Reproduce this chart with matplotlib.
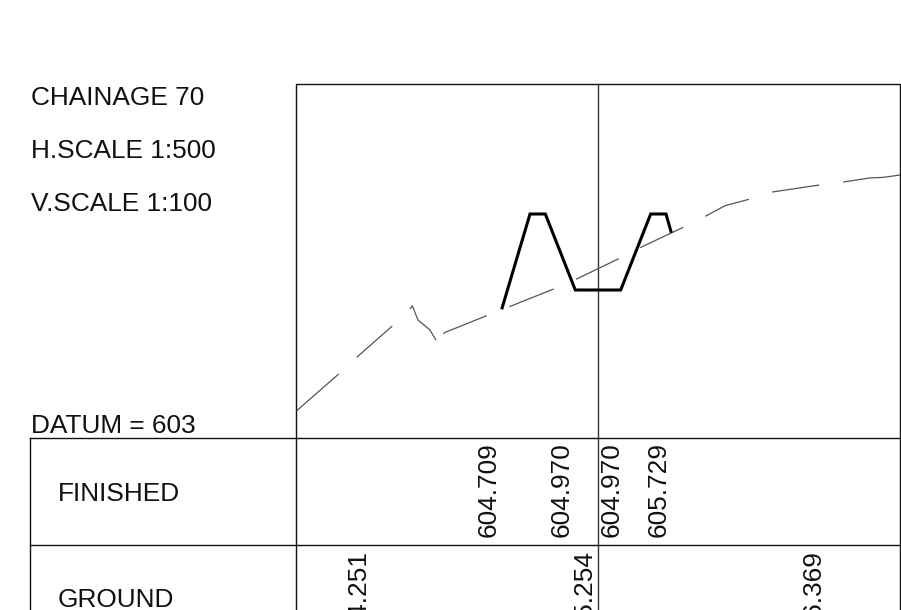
import matplotlib
matplotlib.use("Agg")
import matplotlib.pyplot as plt

plt.rcParams['font.family'] = ['Liberation Sans', 'DejaVu Sans']

# horizontal offset from centre line (m), level (m)
ground_offsets = [
    [-15.065, -12.965],
    [-12.065, -10.285],
    [-9.4, -9.285, -9.0, -8.4, -8.1],
    [-7.715, -7.685, -5.565],
    [-4.435, -2.215],
    [-1.1, 1.035],
    [2.1, 4.265],
    [5.365, 6.35, 7.55],
    [8.715, 11.065],
    [12.265, 13.565, 14.3, 15.1],
]
ground_levels = [
    [603.763, 604.13],
    [604.297, 604.61],
    [604.78, 604.813, 604.67, 604.57, 604.467],
    [604.53, 604.543, 604.713],
    [604.803, 604.98],
    [605.077, 605.283],
    [605.393, 605.597],
    [605.707, 605.813, 605.877],
    [605.95, 606.02],
    [606.05, 606.09, 606.097, 606.12],
]
finished_offsets = [-4.815, -3.4, -2.635, -1.135, 1.135, 2.635, 3.4, 3.665]
finished_levels = [604.777, 605.73, 605.73, 604.97, 604.97, 605.73, 605.73, 605.543]

# table labels
finished_labels = ["604.709", "604.970", "604.970", "605.729"]
finished_label_x = [-5.485, -1.82, 0.68, 3.01]
ground_labels = ["604.251", "605.254", "606.369"]
ground_label_x = [-11.99, -0.67, 10.78]

header = ["CHAINAGE 70", "H.SCALE 1:500", "V.SCALE 1:100"]
datum = "DATUM = 603"
rows = ["FINISHED", "GROUND"]

fig = plt.figure(figsize=(9.01, 6.10), dpi=100)

# page axes in pixels, for the frame and the text
page = fig.add_axes([0, 0, 1, 1])
page.set_xlim(0, 901)
page.set_ylim(610, 0)
page.axis('off')

# profile axes: 20 px per m across, 100 px per m up
ax = fig.add_axes([0, 0, 1, 1])
ax.set_xlim(-598 / 20, 303 / 20)
ax.set_ylim(604.97 - 320 / 100, 604.97 + 290 / 100)
ax.axis('off')
ax.patch.set_alpha(0)

# frame and table, the sheet runs off the bottom of the picture
frame_col = '#111111'
page.plot([296, 296, 900, 900], [620, 84, 84, 620], color=frame_col, lw=1)
page.plot([598, 598], [84, 620], color='#333333', lw=1)
page.plot([30, 900], [438, 438], color=frame_col, lw=1)
page.plot([30, 900], [545, 545], color=frame_col, lw=1)
page.plot([30, 30], [438, 620], color=frame_col, lw=1)

# the profile
for xs, ys in zip(ground_offsets, ground_levels):
    ax.plot(xs, ys, color='#555555', lw=0.9, solid_capstyle='butt')
ax.plot(finished_offsets, finished_levels, color='black', lw=2.2, solid_joinstyle='miter', solid_capstyle='butt')

# text
fs = 18.9
for s, y in zip(header, [98, 151, 204]):
    page.text(31, y, s, fontsize=fs, va='center', ha='left', color='#111111')
page.text(31, 426, datum, fontsize=fs, va='center', ha='left', color='#111111')
for s, y in zip(rows, [494, 600]):
    page.text(58, y, s, fontsize=fs, va='center', ha='left', color='#111111')

for s, x in zip(finished_labels, finished_label_x):
    ax.text(x, 602.50, s, rotation=90, fontsize=fs, ha='center', va='bottom', color='#111111')
for s, x in zip(ground_labels, ground_label_x):
    ax.text(x, 602.37, s, rotation=90, fontsize=fs, ha='center', va='top', color='#111111')

fig.savefig('out.png', dpi=100)
